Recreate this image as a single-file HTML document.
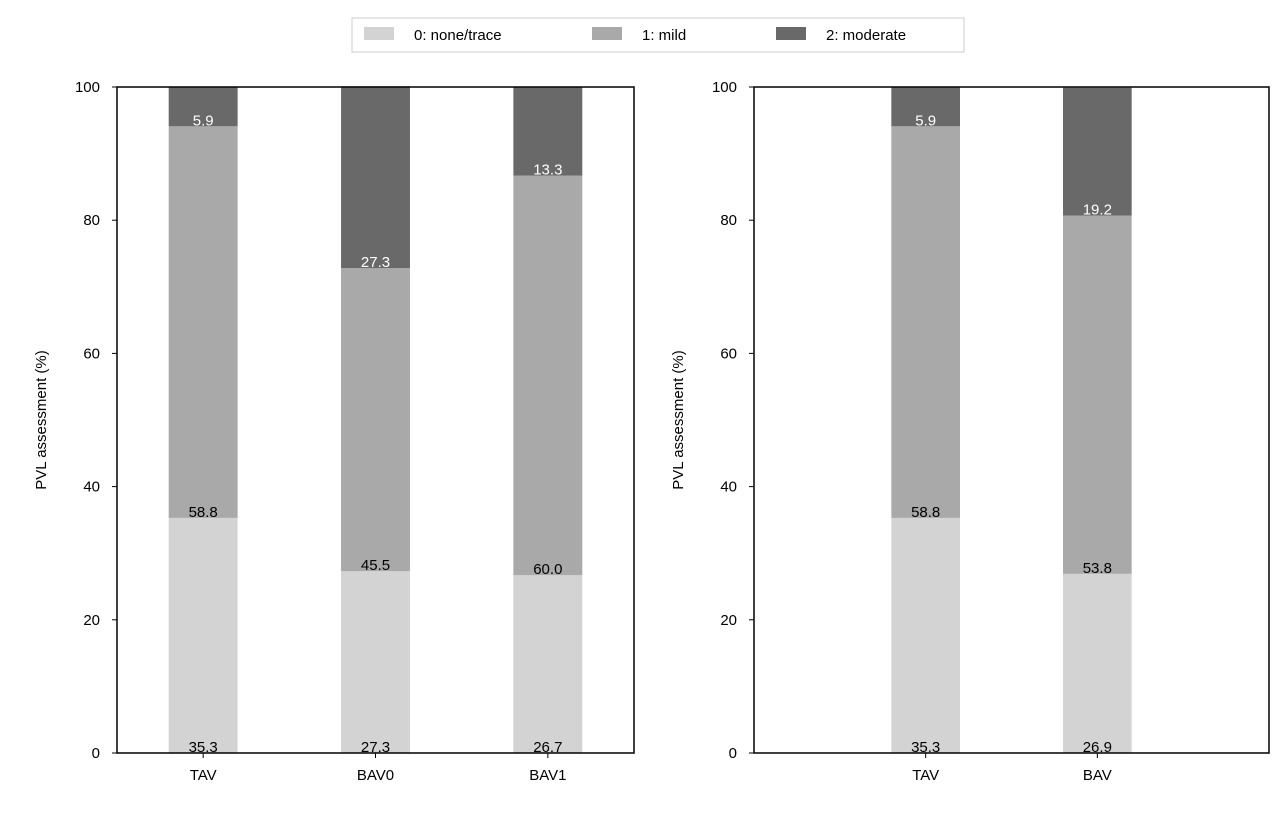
<!DOCTYPE html>
<html><head><meta charset="utf-8"><style>
body{margin:0;background:#fff;}
svg text{font-family:"Liberation Sans","DejaVu Sans",sans-serif;}
</style></head><body>
<svg id="chart" width="1280" height="812" xmlns="http://www.w3.org/2000/svg">
<g>
<rect x="352" y="18" width="612" height="34" fill="#fff" stroke="#ccc"/>
<rect x="364" y="27" width="30" height="13" fill="#d3d3d3"/>
<text x="414" y="40" font-size="15" fill="#000">0: none/trace</text>
<rect x="592" y="27" width="30" height="13" fill="#a9a9a9"/>
<text x="642" y="40" font-size="15" fill="#000">1: mild</text>
<rect x="776" y="27" width="30" height="13" fill="#696969"/>
<text x="826" y="40" font-size="15" fill="#000">2: moderate</text>
</g>
<g id="p1"></g>
<g id="p2"></g>
</svg>
<script>
const leftCategories=["TAV","BAV0","BAV1"];
const leftNone=[35.3,27.3,26.7];
const leftMild=[58.8,45.5,60.0];
const leftModerate=[5.9,27.3,13.3];
const rightCategories=["TAV","BAV"];
const rightNone=[35.3,26.9];
const rightMild=[58.8,53.8];
const rightModerate=[5.9,19.2];
const yTicks=[0,20,40,60,80,100];
const NS="http://www.w3.org/2000/svg";
function mk(p,tag,attrs,txt){const e=document.createElementNS(NS,tag);for(const k in attrs)e.setAttribute(k,attrs[k]);if(txt!==undefined)e.textContent=txt;p.appendChild(e);return e;}
function panel(gid,x0,x1,xmin,xmax,cats,series){
  const g=document.getElementById(gid);
  const top=87,bot=753;
  const sx=v=>x0+(v-xmin)/(xmax-xmin)*(x1-x0);
  const sy=v=>bot-v/100*(bot-top);
  const unit=(x1-x0)/(xmax-xmin);
  const bw=0.4*unit;
  const colors=["#d3d3d3","#a9a9a9","#696969"];
  const tcol=["#000","#000","#fff"];
  const names=["none","mild","moderate"];
  cats.forEach((c,i)=>{
    let base=0;
    series.forEach((s,j)=>{
      const v=s[i];
      const r=mk(g,"rect",{x:sx(i)-bw/2,y:sy(base+v),width:bw,height:sy(base)-sy(base+v),fill:colors[j]});
      
      
      const t=mk(g,"text",{x:sx(i),y:sy(base)-1,"font-size":15,"text-anchor":"middle",fill:tcol[j]},v.toFixed(1));
      
      
      base+=v;
    });
    const tk=mk(g,"line",{x1:sx(i),x2:sx(i),y1:bot,y2:bot+5,stroke:"#000","stroke-width":1});
    
    
    const tl=mk(g,"text",{x:sx(i),y:bot+27,"font-size":15,"text-anchor":"middle",fill:"#000"},c);
    
    
  });
  const frame=mk(g,"rect",{x:x0,y:top,width:x1-x0,height:bot-top,fill:"none",stroke:"#000","stroke-width":1.5});
  
  
  yTicks.forEach(v=>{
    const l=mk(g,"line",{x1:x0-5,x2:x0,y1:sy(v),y2:sy(v),stroke:"#000"});
    
    
    const t=mk(g,"text",{x:x0-17,y:sy(v)+5,"font-size":15,"text-anchor":"end",fill:"#000"},String(v));
    
    
  });
  const yt=mk(g,"text",{x:0,y:0,"font-size":15,"text-anchor":"middle",fill:"#000",transform:`translate(${x0-71},${(top+bot)/2}) rotate(-90)`},"PVL assessment (%)");
  
  
}
panel("p1",117,634,-0.5,2.5,leftCategories,[leftNone,leftMild,leftModerate]);
panel("p2",754,1269,-1,2,rightCategories,[rightNone,rightMild,rightModerate]);
</script>
</body></html>
